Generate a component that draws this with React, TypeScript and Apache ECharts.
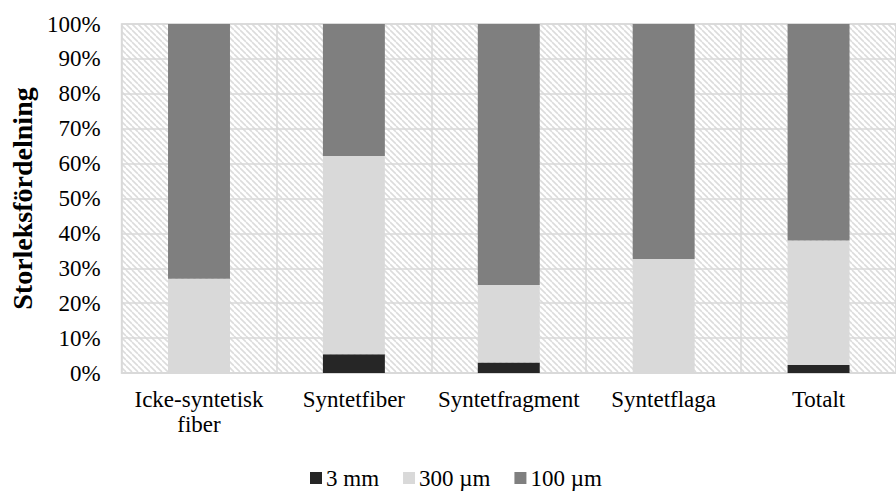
import React, { useEffect, useRef } from "react";
import * as echarts from "echarts";

const categories = ["Icke-syntetisk\nfiber", "Syntetfiber", "Syntetfragment", "Syntetflaga", "Totalt"];
const mm3 = [0, 5.4, 3.0, 0, 2.3];
const um300 = [27.0, 56.8, 22.2, 32.7, 35.7];
const um100 = [73.0, 37.8, 74.8, 67.3, 62.0];
const seriesNames = ["3 mm", "300 µm", "100 µm"];
const seriesColors = ["#262626", "#d9d9d9", "#7f7f7f"];

const FONT = "'Liberation Serif', 'Times New Roman', serif";

function makePattern(): string {
  const c = document.createElement("canvas");
  c.width = 6;
  c.height = 6;
  const ctx = c.getContext("2d")!;
  ctx.fillStyle = "#ffffff";
  ctx.fillRect(0, 0, 6, 6);
  ctx.strokeStyle = "#dcdcdc";
  ctx.lineWidth = 1.6;
  for (const off of [-6, 0, 6]) {
    ctx.beginPath();
    ctx.moveTo(off, 0);
    ctx.lineTo(off + 6, 6);
    ctx.stroke();
  }
  return c.toDataURL();
}

export default function App() {
  const ref = useRef<HTMLDivElement>(null);
  useEffect(() => {
    if (!ref.current) return;
    const chart = echarts.init(ref.current, null, { renderer: "svg" });
    const pattern = makePattern();
    const data = [mm3, um300, um100];
    chart.setOption({
      animation: false,
      textStyle: { fontFamily: FONT },
      grid: {
        left: 121,
        right: -8,
        top: 24,
        bottom: 118,
        show: true,
        backgroundColor: { image: pattern, repeat: "repeat" },
        borderColor: "#d9d9d9",
        borderWidth: 1.5,
      },
      legend: {
        left: 305,
        top: 461,
        padding: 5,
        itemWidth: 12,
        itemHeight: 12,
        itemGap: 24,
        icon: "rect",
        textStyle: { fontFamily: FONT, fontSize: 23, lineHeight: 24, color: "#000", padding: [0, 0, 0, -1] },
        data: seriesNames,
      },
      xAxis: {
        type: "category",
        data: categories,
        axisTick: { show: false },
        axisLine: { show: true, lineStyle: { color: "#d9d9d9", width: 1.5 } },
        splitLine: { show: true, lineStyle: { color: "#d9d9d9", width: 1.5 } },
        axisLabel: {
          fontFamily: FONT,
          fontSize: 23,
          color: "#000",
          margin: 14,
          lineHeight: 25,
          interval: 0,
        },
      },
      yAxis: {
        type: "value",
        min: 0,
        max: 100,
        interval: 10,
        name: "Storleksfördelning",
        nameLocation: "middle",
        nameGap: 83,
        nameTextStyle: { fontFamily: FONT, fontSize: 28, fontWeight: "bold", color: "#000" },
        axisLine: { show: false },
        axisTick: { show: false },
        splitLine: { show: true, lineStyle: { color: "#d9d9d9", width: 1.5 } },
        axisLabel: {
          fontFamily: FONT,
          fontSize: 23,
          color: "#000",
          margin: 21,
          formatter: "{value}%",
        },
      },
      series: seriesNames.map((name, i) => ({
        name,
        type: "bar",
        stack: "total",
        barWidth: "40%",
        data: data[i],
        itemStyle: { color: seriesColors[i] },
      })),
    });
    return () => chart.dispose();
  }, []);
  return (
    <div
      ref={ref}
      style={{ position: "absolute", left: 0, top: 0, width: 896, height: 491, background: "#fff" }}
    />
  );
}
